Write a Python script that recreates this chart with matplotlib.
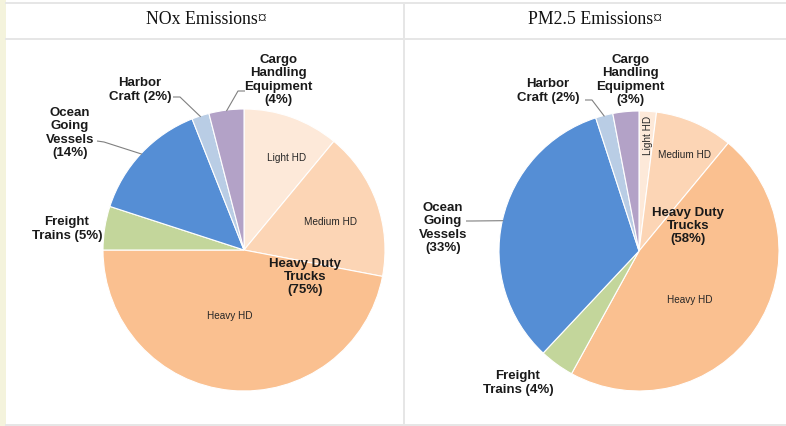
import numpy as np
import matplotlib.pyplot as plt

W, H = 786, 427

# shares (percent)
slices = ['Light HD', 'Medium HD', 'Heavy HD', 'Freight Trains',
          'Ocean Going Vessels', 'Harbor Craft', 'Cargo Handling Equipment']
nox_share = [11, 17, 47, 5, 14, 2, 4]
pm25_share = [2, 9, 47, 4, 33, 2, 3]
titles = ['NOx Emissions\u00a4', 'PM2.5 Emissions\u00a4']
colors = ['#fde9d9', '#fcd5b5', '#fac090', '#c3d69b', '#558ed5', '#b9cde5', '#b3a2c7']

BOLD = dict(family='Liberation Sans', fontsize=9.5, fontweight='bold',
            color='#1a1a1a', ha='center', va='center', linespacing=1.15)
SMALL = dict(family='Liberation Sans', fontsize=7.2, color='#262626',
             ha='center', va='center')


def fy(y):
    # image y (top down) -> axes y (bottom up)
    return H - y


def rim(w, cx, cy, r):
    a = np.deg2rad((w.theta1 + w.theta2) / 2)
    return cx + r * np.cos(a), fy(cy) + r * np.sin(a)


def leader(ax, pts, end):
    xs = [p[0] for p in pts] + [end[0]]
    ys = [fy(p[1]) for p in pts] + [end[1]]
    ax.plot(xs, ys, color='#808080', lw=0.8, solid_capstyle='butt')


fig = plt.figure(figsize=(W / 100, H / 100), dpi=100)
ax = fig.add_axes([0, 0, 1, 1])

# table frame
ax.axvspan(0, 6, color='#f4f3dc', lw=0)
grid = dict(color='#e6e6e6', lw=1.4)
ax.plot([6, W], [fy(4), fy(4)], **grid)
ax.plot([6, W], [fy(39.5), fy(39.5)], **grid)
ax.plot([6, W], [fy(426), fy(426)], **grid)
ax.plot([403.5, 403.5], [fy(4), fy(426)], **grid)

ax.text(206, fy(19), titles[0], family='Liberation Serif', fontsize=12.8,
        ha='center', va='center', color='#111111')
ax.text(595, fy(19), titles[1], family='Liberation Serif', fontsize=12.8,
        ha='center', va='center', color='#111111')

wp = dict(edgecolor='white', linewidth=0.8)

# ---- NOx pie
cx, cy, r = 244, 251, 141
w1, _ = ax.pie(nox_share, colors=colors, startangle=90, counterclock=False,
               center=(cx, fy(cy)), radius=r, wedgeprops=wp)
ax.text(287, fy(158), 'Light HD', **SMALL)
ax.text(331, fy(222), 'Medium HD', **SMALL)
ax.text(230, fy(316), 'Heavy HD', **SMALL)
ax.text(305, fy(277), 'Heavy Duty\nTrucks\n(%d%%)' % sum(nox_share[:3]), **BOLD)
ax.text(67, fy(229), 'Freight\nTrains (%d%%)' % nox_share[3], **BOLD)
ax.text(70, fy(133), 'Ocean\nGoing\nVessels\n(%d%%)' % nox_share[4], **BOLD)
ax.text(140, fy(90), 'Harbor\nCraft (%d%%)' % nox_share[5], **BOLD)
ax.text(278, fy(80), 'Cargo\nHandling\nEquipment\n(%d%%)' % nox_share[6], **BOLD)
leader(ax, [(97, 142), (104, 143)], rim(w1[4], cx, cy, r - 1))
leader(ax, [(173, 98), (180, 98)], rim(w1[5], cx, cy, r - 1))
leader(ax, [(245, 92), (238, 92)], rim(w1[6], cx, cy, r - 1))

# ---- PM2.5 pie
cx, cy, r = 639, 252, 140
w2, _ = ax.pie(pm25_share, colors=colors, startangle=90, counterclock=False,
               center=(cx, fy(cy)), radius=r, wedgeprops=wp)
ax.text(648, fy(135), 'Light HD', rotation=90, **SMALL)
ax.text(685, fy(155), 'Medium HD', **SMALL)
ax.text(690, fy(300), 'Heavy HD', **SMALL)
ax.text(688, fy(226), 'Heavy Duty\nTrucks\n(%d%%)' % sum(pm25_share[:3]), **BOLD)
ax.text(518, fy(383), 'Freight\nTrains (%d%%)' % pm25_share[3], **BOLD)
ax.text(443, fy(228), 'Ocean\nGoing\nVessels\n(%d%%)' % pm25_share[4], **BOLD)
ax.text(548, fy(91), 'Harbor\nCraft (%d%%)' % pm25_share[5], **BOLD)
ax.text(630, fy(80), 'Cargo\nHandling\nEquipment\n(%d%%)' % pm25_share[6], **BOLD)
leader(ax, [(466, 222), (472, 222)], rim(w2[4], cx, cy, r - 1))
leader(ax, [(585, 101), (592, 101)], rim(w2[5], cx, cy, r - 1))

ax.set_xlim(0, W)
ax.set_ylim(0, H)
ax.set_aspect('auto')
ax.axis('off')

fig.savefig('out.png', dpi=100, facecolor='white')
